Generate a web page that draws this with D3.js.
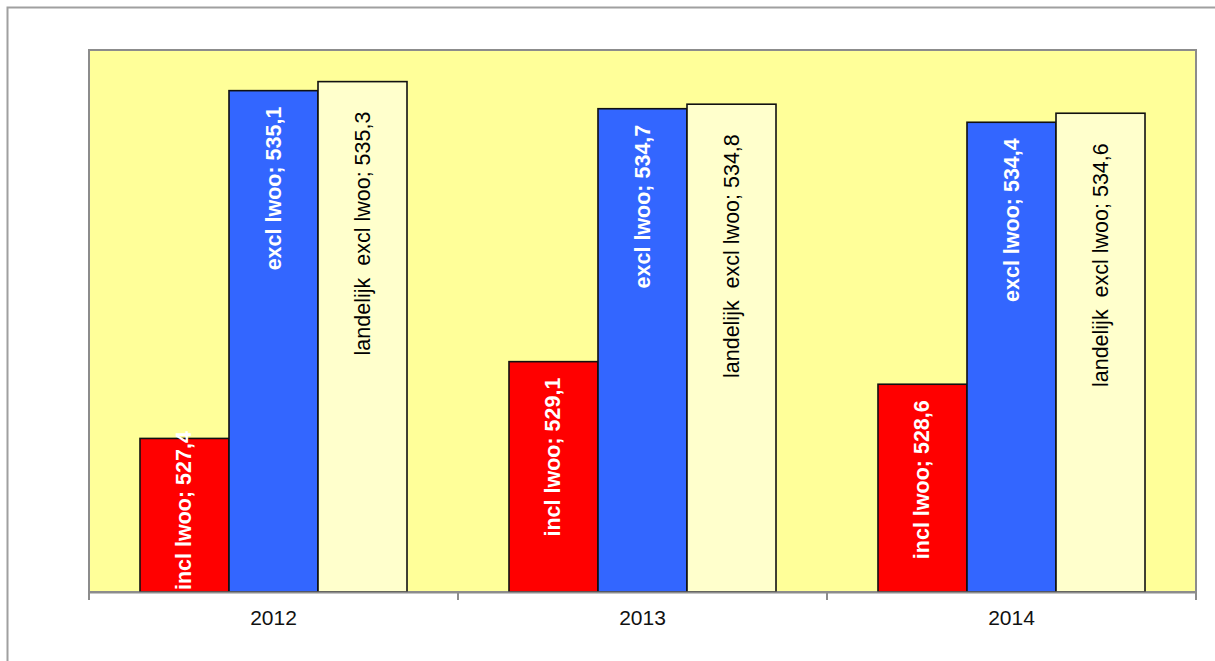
<!DOCTYPE html>
<html><head><meta charset="utf-8">
<script src="https://cdn.jsdelivr.net/npm/d3@7"></script>
<style>body{margin:0;background:#fff;} svg{display:block;}</style>
</head><body>
<svg id="c" width="1215" height="661"></svg>
<script>
const categories = ["2012", "2013", "2014"];
const seriesNames = ["incl lwoo", "excl lwoo", "landelijk  excl lwoo"];
const inclLwoo = [527.4, 529.1, 528.6];
const exclLwoo = [535.1, 534.7, 534.4];
const landelijkExclLwoo = [535.3, 534.8, 534.6];
const seriesValues = [inclLwoo, exclLwoo, landelijkExclLwoo];
const seriesColors = ["#FF0000", "#3366FF", "#FFFFCC"];
const labelColors = ["#FFFFFF", "#FFFFFF", "#000000"];
const labelWeights = ["bold", "bold", "normal"];

const svg = d3.select("#c");
const W = 1215, H = 661;
const plot = {left: 89, top: 50, right: 1196, bottom: 592};

// outer frame
svg.append("rect").attr("x", 7.5).attr("y", 7.5).attr("width", W + 20).attr("height", H + 20)
  .attr("fill", "#fff").attr("stroke", "#a0a0a0").attr("stroke-width", 2);

const x0 = d3.scaleBand().domain(categories).range([plot.left, plot.right]).paddingInner(0).paddingOuter(0);
const bw = x0.bandwidth();
const gap = bw * 0.1382;
const x1 = d3.scaleBand().domain(d3.range(seriesNames.length)).range([gap, bw - gap]).padding(0);
const y = d3.scaleLinear().domain([524, 536]).range([plot.bottom, plot.top]);

// plot background
svg.append("rect").attr("x", plot.left).attr("y", plot.top)
  .attr("width", plot.right - plot.left).attr("height", plot.bottom - plot.top)
  .attr("fill", "#FFFF99").attr("stroke", "#8c8c8c").attr("stroke-width", 2);

const data = [];
categories.forEach((c, ci) => seriesValues.forEach((vals, si) => data.push({c, si, v: vals[ci]})));

const g = svg.append("g");
g.selectAll("rect.bar").data(data).join("rect").attr("class", "bar")
  .attr("x", d => x0(d.c) + x1(d.si))
  .attr("y", d => y(d.v))
  .attr("width", x1.bandwidth())
  .attr("height", d => y(524) - y(d.v))
  .attr("fill", d => seriesColors[d.si])
  .attr("stroke", "#111").attr("stroke-width", 1.6);

// x axis
const xAxis = d3.axisBottom(x0).tickSize(0).tickPadding(18);
const ax = svg.append("g").attr("transform", `translate(0,${plot.bottom})`).call(xAxis);
ax.select(".domain").attr("stroke", "#8c8c8c").attr("stroke-width", 2);
ax.selectAll(".tick text").attr("font-family", "Liberation Sans, Arial, sans-serif").attr("font-size", 21).attr("fill", "#111");
// category separator ticks
const sepX = categories.map(c => x0(c)).concat([x0.range()[1]]);
svg.selectAll("line.sep").data(sepX).join("line").attr("class", "sep")
  .attr("x1", d => d).attr("x2", d => d).attr("y1", plot.bottom).attr("y2", plot.bottom + 8)
  .attr("stroke", "#8c8c8c").attr("stroke-width", 2);

// labels
const offsets = [16, 16, 30];
const fmt = v => v.toFixed(1).replace(".", ",");
g.selectAll("text.lbl").data(data).join("text").attr("class", "lbl")
  .attr("font-family", "Liberation Sans, Arial, sans-serif")
  .attr("font-size", 21.5)
  .attr("font-weight", d => labelWeights[d.si])
  .attr("fill", d => labelColors[d.si])
  .attr("dominant-baseline", "central")
  .attr("text-anchor", "start")
  .style("white-space", "pre")
  .attr("xml:space", "preserve")
  .text(d => seriesNames[d.si] + "; " + fmt(d.v))
  .each(function(d) {
    const len = this.getComputedTextLength();
    const cx = x0(d.c) + x1(d.si) + x1.bandwidth() / 2;
    let start = y(d.v) + offsets[d.si] + len;
    start = Math.min(start, plot.bottom - 2);
    d3.select(this).attr("transform", `translate(${cx},${start}) rotate(-90)`);
  });
</script>
</body></html>
